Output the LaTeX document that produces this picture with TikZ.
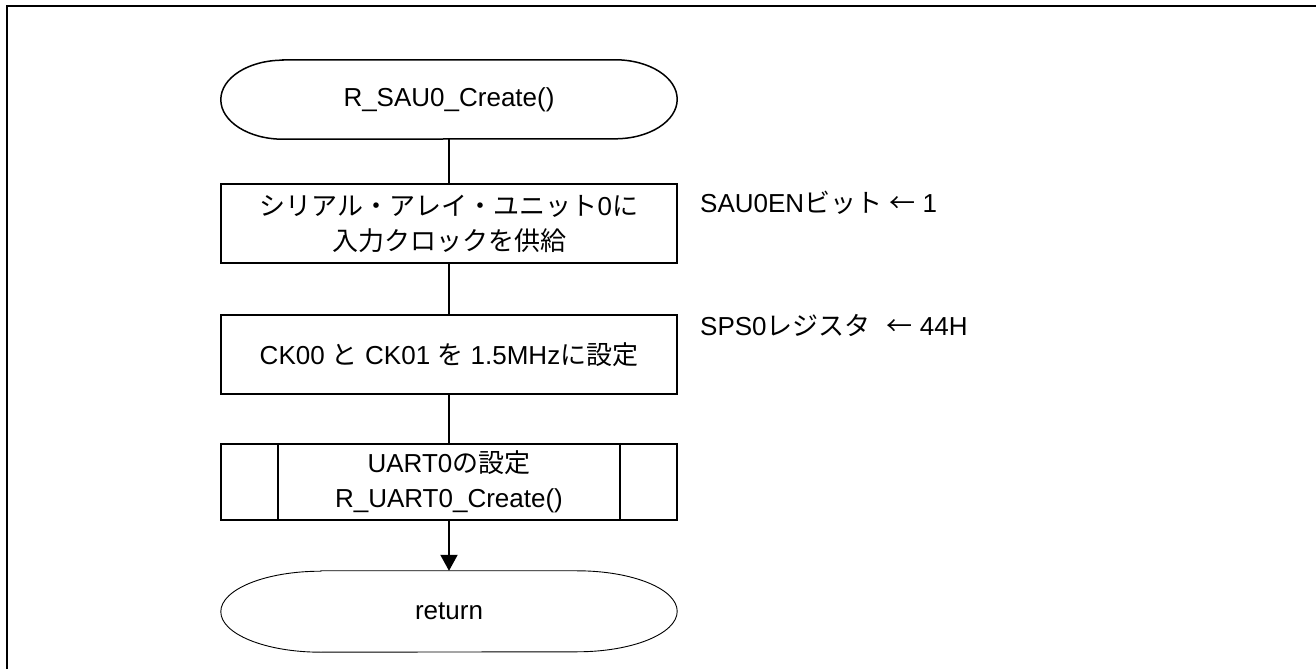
\documentclass[tikz,border=0pt]{standalone}
\usepackage{fontspec}
\setmainfont{Liberation Sans}
\newfontfamily\jpfont{Noto Sans CJK JP}
\newcommand{\jp}[1]{{\jpfont #1}}
\usetikzlibrary{arrows.meta}
\begin{document}
\begin{tikzpicture}[x=1pt,y=1pt,
  every node/.style={font=\fontsize{26}{35}\selectfont},
  proc/.style={draw, line width=2pt, minimum width=456pt, inner sep=0pt, align=center},
  term/.style={minimum width=456pt, inner sep=0pt, align=center},
  note/.style={anchor=base west, inner sep=0pt},
  flow/.style={line width=2pt},
  outl/.style={line width=1.5pt}]
\useasboundingbox (0,0) rectangle (1316,669);
% frame
\draw[line width=2pt] (6.5,0) -- (6.5,663) -- (1316,663);

% nodes
\node[term, minimum height=79pt] (start) at (449,569.5) {R\_SAU0\_Create()};
\draw[outl] ([xshift=62pt]start.north west) -- ([xshift=-62pt]start.north east)
  arc[start angle=90, end angle=-90, x radius=62pt, y radius=39.5pt]
  -- ([xshift=62pt]start.south west)
  arc[start angle=270, end angle=90, x radius=62pt, y radius=39.5pt] -- cycle;

\node[proc, minimum height=79pt] (b1) at (449,445.5) {\jp{シリアル・アレイ・ユニット}0\jp{に}\\\jp{入力クロックを供給}};
\node[proc, minimum height=79pt] (b2) at (449,314.5) {CK00 \jp{と} CK01 \jp{を} 1.5MHz\jp{に設定}};
\node[proc, minimum height=76pt] (b3) at (449,187) {UART0\jp{の設定}\\R\_UART0\_Create()};
\draw[line width=2pt] ([xshift=58pt]b3.north west) -- ([xshift=58pt]b3.south west);
\draw[line width=2pt] ([xshift=-58pt]b3.north east) -- ([xshift=-58pt]b3.south east);

\node[term, minimum height=81pt] (ret) at (449,57.5) {return};
\draw[line width=0.9pt] ([xshift=100pt]ret.north west) -- ([xshift=-100pt]ret.north east)
  arc[start angle=90, end angle=-90, x radius=100pt, y radius=40.5pt]
  -- ([xshift=100pt]ret.south west)
  arc[start angle=270, end angle=90, x radius=100pt, y radius=40.5pt] -- cycle;

% notes
\node[note] (n1) at (700,456) {SAU0EN\jp{ビット} \jp{←} 1};
\node[note] (n2) at (700,333) {SPS0\jp{レジスタ}\hspace{16pt}\jp{←} 44H};

% connectors
\draw[flow] (start.south) -- (b1.north);
\draw[flow] (b1.south) -- (b2.north);
\draw[flow] (b2.south) -- (b3.north);
\draw[flow, -{Triangle[length=16pt,width=17pt]}] (b3.south) -- (ret.north);
\end{tikzpicture}
\end{document}
